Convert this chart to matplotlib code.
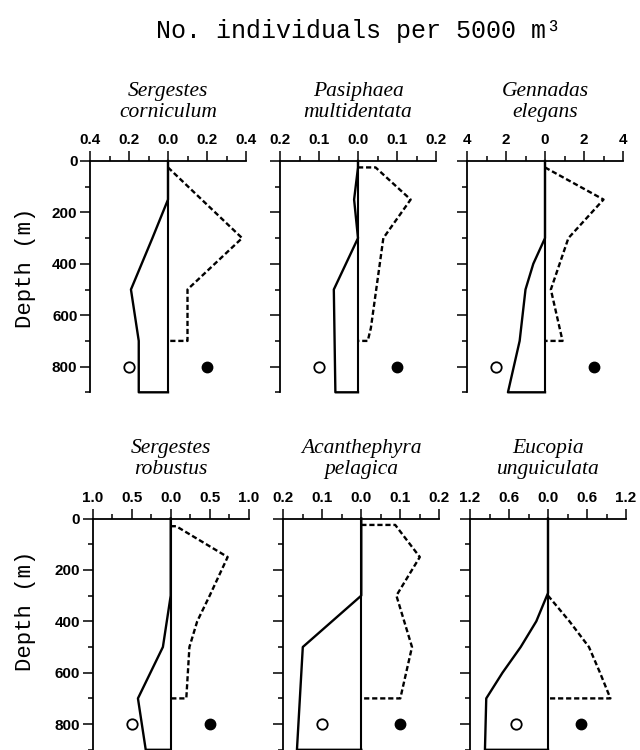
import matplotlib.pyplot as plt
from matplotlib.ticker import MultipleLocator, FuncFormatter

# species titles (two lines, italic)
titles = ['Sergestes\ncorniculum', 'Pasiphaea\nmultidentata', 'Gennadas\nelegans',
          'Sergestes\nrobustus', 'Acanthephyra\npelagica', 'Eucopia\nunguiculata']

# day profiles (drawn to the left of 0), depth in m
sc_day_depth = [0, 150, 300, 500, 700, 900, 900]
sc_day = [0, 0, 0.08, 0.19, 0.15, 0.15, 0]
pm_day_depth = [0, 25, 150, 300, 500, 900, 900]
pm_day = [0, 0, 0.01, 0, 0.062, 0.058, 0]
ge_day_depth = [0, 300, 400, 500, 700, 900, 900]
ge_day = [0, 0, 0.6, 1.0, 1.3, 1.9, 0]
sr_day_depth = [0, 300, 500, 700, 900, 900]
sr_day = [0, 0, 0.1, 0.42, 0.32, 0]
ap_day_depth = [0, 300, 500, 900, 900]
ap_day = [0, 0, 0.15, 0.165, 0]
eu_day_depth = [0, 290, 400, 500, 600, 700, 900, 900]
eu_day = [0, 0, 0.18, 0.42, 0.7, 0.95, 0.97, 0]

# night profiles (dashed, to the right of 0)
sc_night_depth = [25, 300, 500, 700, 700]
sc_night = [0, 0.38, 0.1, 0.1, 0]
pm_night_depth = [25, 25, 150, 300, 650, 700, 700]
pm_night = [0, 0.045, 0.135, 0.065, 0.033, 0.025, 0]
ge_night_depth = [25, 150, 300, 500, 700, 700]
ge_night = [0, 3.0, 1.2, 0.3, 0.9, 0]
sr_night_depth = [30, 30, 150, 300, 400, 500, 700, 700]
sr_night = [0, 0.07, 0.73, 0.5, 0.34, 0.24, 0.2, 0]
ap_night_depth = [25, 25, 150, 300, 500, 700, 700]
ap_night = [0, 0.087, 0.15, 0.09, 0.13, 0.1, 0]
eu_night_depth = [300, 400, 500, 600, 700, 700]
eu_night = [0, 0.33, 0.63, 0.8, 0.96, 0]

# symbol (open = day, filled = night) at 800 m
symbol_depth = 800
symbol_x = [0.2, 0.1, 2.5, 0.5, 0.1, 0.5]

# axis ranges and tick steps
xmax = [0.4, 0.2, 4, 1.0, 0.2, 1.2]
xstep = [0.2, 0.1, 2, 0.5, 0.1, 0.6]
decimals = [1, 1, 0, 1, 1, 1]

day_depth = [sc_day_depth, pm_day_depth, ge_day_depth, sr_day_depth, ap_day_depth, eu_day_depth]
day = [sc_day, pm_day, ge_day, sr_day, ap_day, eu_day]
night_depth = [sc_night_depth, pm_night_depth, ge_night_depth, sr_night_depth, ap_night_depth, eu_night_depth]
night = [sc_night, pm_night, ge_night, sr_night, ap_night, eu_night]

plt.rcParams['font.family'] = ['Liberation Sans', 'DejaVu Sans']
plt.rcParams['font.weight'] = 'bold'

W, H = 640., 750.
scale = 0.257  # pixels per metre
lefts = [90, 280, 467, 92.7, 283.3, 470]
tops = [161, 161, 161, 518.5, 518.5, 518.5]
wpx = 156

fig = plt.figure(figsize=(6.4, 7.5), dpi=100)

for i in range(6):
    hpx = 900 * scale
    ax = fig.add_axes([lefts[i] / W, 1 - (tops[i] + hpx) / H, wpx / W, hpx / H])

    ax.axvline(0, color='k', lw=1.5)
    ax.plot([-v for v in day[i]], day_depth[i], color='k', lw=1.7, clip_on=False)
    ax.plot(night[i], night_depth[i], color='k', lw=1.7, ls=(0, (2.2, 1.2)))
    ax.plot(-symbol_x[i], symbol_depth, 'o', mfc='white', mec='k', ms=7.5, mew=1.3)
    ax.plot(symbol_x[i], symbol_depth, 'o', color='k', ms=7.5)

    ax.set_xlim(-xmax[i], xmax[i])
    ax.set_ylim(900, 0)

    ax.spines['right'].set_visible(False)
    ax.spines['bottom'].set_visible(False)
    ax.spines['left'].set_linewidth(1.3)
    ax.spines['top'].set_linewidth(1.3)

    ax.xaxis.tick_top()
    ax.xaxis.set_major_locator(MultipleLocator(xstep[i]))
    ax.xaxis.set_minor_locator(MultipleLocator(xstep[i] / 2))
    d = decimals[i]
    ax.xaxis.set_major_formatter(FuncFormatter(lambda v, p, d=d: '%.*f' % (d, abs(v))))
    ax.yaxis.set_major_locator(MultipleLocator(200))
    ax.yaxis.set_minor_locator(MultipleLocator(100))

    ax.tick_params(which='major', direction='out', length=7, width=1.1, labelsize=11, pad=3)
    ax.tick_params(which='minor', direction='out', length=3.5, width=1.1)
    ax.tick_params(axis='y', labelleft=(i % 3 == 0), pad=2)

    ax.text(0.5, 1.17, titles[i], transform=ax.transAxes, ha='center', va='bottom',
            family='Liberation Serif', style='italic', weight='normal', fontsize=15.5,
            linespacing=1.15)

# shared labels
fig.text(358 / W, 1 - 38 / H, 'No. individuals per 5000 m³', ha='center', va='baseline',
         family='Liberation Mono', weight='normal', fontsize=18)
fig.text(26 / W, 1 - 268 / H, 'Depth (m)', rotation=90, ha='center', va='center',
         family='Liberation Mono', weight='normal', fontsize=16)
fig.text(26 / W, 1 - 611 / H, 'Depth (m)', rotation=90, ha='center', va='center',
         family='Liberation Mono', weight='normal', fontsize=16)

fig.savefig('out.png', dpi=100)
